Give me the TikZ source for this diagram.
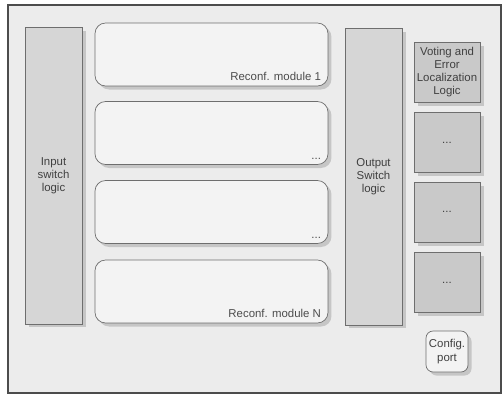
\documentclass[tikz,border=0pt]{standalone}
\usepackage{fontspec}
\setmainfont{Liberation Sans}
\usetikzlibrary{positioning,shadows}

\definecolor{panel}{HTML}{ECECEC}
\definecolor{switchfill}{HTML}{D6D6D6}
\definecolor{modfill}{HTML}{F3F3F3}
\definecolor{votefill}{HTML}{C9C9C9}
\definecolor{edge}{HTML}{6E6E6E}

\begin{document}
\begin{tikzpicture}[x=0.02cm, y=-0.02cm, font=\fontsize{6.5}{7.5}\selectfont,
  sw/.style={draw=edge, fill=switchfill, inner sep=0pt, minimum width=1.14cm, minimum height=5.94cm, align=center, text=black!75,
    drop shadow={shadow xshift=2pt, shadow yshift=-2pt, opacity=0.35}},
  module/.style={draw=edge, fill=modfill, rounded corners=6pt, inner sep=0pt, minimum width=4.66cm, minimum height=1.26cm,
    drop shadow={shadow xshift=2pt, shadow yshift=-2pt, opacity=0.35}},
  vote/.style={draw=edge, fill=votefill, inner sep=0pt, minimum width=1.32cm, minimum height=1.2cm, align=center, text=black!75,
    drop shadow={shadow xshift=2pt, shadow yshift=-2pt, opacity=0.35}},
  tag/.style={anchor=south east, inner sep=1pt, text=black!70}]
\useasboundingbox (0,0) rectangle (503,395);
% outer frame
\node[draw=black!70, line width=0.8pt, fill=panel, inner sep=0pt, minimum width=9.86cm, minimum height=7.76cm] (frame) at (254.5,199) {};
% switch logic
\node[sw] (insw) at (53.5,175.5) {Input\\switch\\logic};
\node[sw] (outsw) at (373.5,176.5) {Output\\Switch\\logic};
% reconfigurable modules
\node[module] (mod1) at (211.5,54.5) {};
\node[module] (mod2) at (211.5,133) {};
\node[module] (mod3) at (211.5,212) {};
\node[module] (modN) at (211.5,291.5) {};
\node[tag] at ([xshift=-3pt, yshift=2pt]mod1.south east) {Reconf. module 1};
\node[tag] at ([xshift=-3pt, yshift=2pt]mod2.south east) {...};
\node[tag] at ([xshift=-3pt, yshift=2pt]mod3.south east) {...};
\node[tag] at ([xshift=-3pt, yshift=2pt]modN.south east) {Reconf. module N};
% voting and error localization
\node[vote] (vote1) at (447,72) {Voting and\\Error\\Localization\\Logic};
\node[vote] (vote2) at (447,142.5) {...};
\node[vote] (vote3) at (447,212) {...};
\node[vote] (vote4) at (447,282.5) {...};
% config port
\node[draw=edge, fill=modfill, rounded corners=4pt, inner sep=0pt, minimum width=0.84cm, minimum height=0.82cm, align=center, text=black!75,
  drop shadow={shadow xshift=2pt, shadow yshift=-2pt, opacity=0.35}] (cfg) at (447,351.5) {Config.\\port};
\end{tikzpicture}
\end{document}
